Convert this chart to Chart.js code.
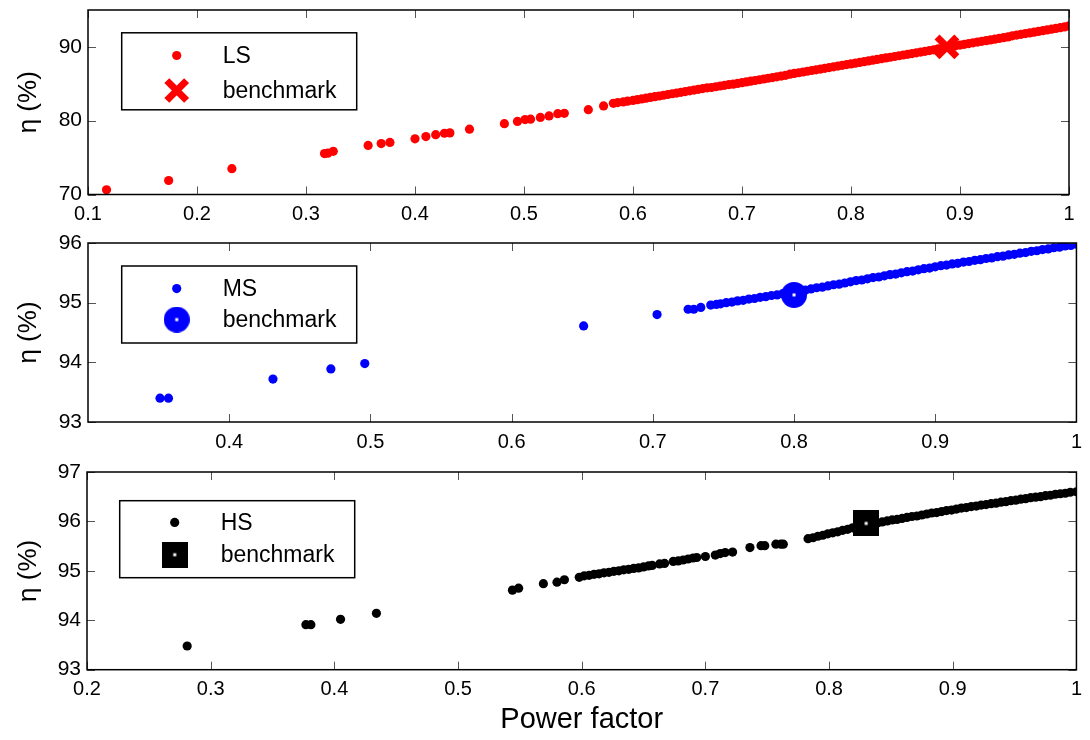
<!DOCTYPE html>
<html>
<head>
<meta charset="utf-8">
<script src="https://cdn.jsdelivr.net/npm/chart.js@4.4.1/dist/chart.umd.min.js"></script>
<style>
  html, body { margin: 0; padding: 0; background: #fff; }
  body { width: 1090px; height: 740px; position: relative; overflow: hidden; }
  .panel { position: absolute; left: 0; width: 1090px; }
</style>
</head>
<body>
<div class="panel"><canvas id="lsChart" width="1090" height="252"></canvas></div>
<div class="panel"><canvas id="msChart" width="1090" height="242"></canvas></div>
<div class="panel"><canvas id="hsChart" width="1090" height="294"></canvas></div>
<script>
// --- LS (top panel) ---
const lsPF = [0.117, 0.174, 0.232, 0.317, 0.320, 0.325, 0.357, 0.369, 0.377, 0.400, 0.410, 0.419, 0.427, 0.432,
  0.450, 0.482, 0.494, 0.501, 0.506, 0.515, 0.523, 0.531, 0.537, 0.559, 0.573, 0.582, 0.586, 0.591, 0.595,
  0.600, 0.604, 0.608, 0.612, 0.616, 0.620, 0.624, 0.628, 0.632, 0.636, 0.640, 0.644, 0.648, 0.652, 0.656, 0.660,
  0.664, 0.668, 0.672, 0.676, 0.680, 0.684, 0.688, 0.692, 0.696, 0.700, 0.704, 0.708, 0.712, 0.716, 0.720, 0.724,
  0.728, 0.732, 0.736, 0.740, 0.744, 0.748, 0.752, 0.756, 0.760, 0.764, 0.768, 0.772, 0.776, 0.780, 0.784, 0.788,
  0.792, 0.796, 0.800, 0.804, 0.808, 0.812, 0.816, 0.820, 0.824, 0.828, 0.832, 0.836, 0.840, 0.844, 0.848, 0.852,
  0.856, 0.860, 0.864, 0.868, 0.872, 0.876, 0.880, 0.884, 0.888, 0.892, 0.896, 0.900, 0.904, 0.908, 0.912, 0.916,
  0.920, 0.924, 0.928, 0.932, 0.936, 0.940, 0.944, 0.948, 0.952, 0.956, 0.960, 0.964, 0.968, 0.972, 0.976, 0.980,
  0.984, 0.988, 0.992, 0.996, 1.000];
const lsEta = [70.64, 71.9, 73.5, 75.55, 75.6, 75.85, 76.65, 76.9, 77.05, 77.55, 77.85, 78.1, 78.3, 78.35,
  78.85, 79.6, 79.9, 80.15, 80.2, 80.45, 80.65, 80.95, 81.0, 81.5, 82.0, 82.35, 82.45, 82.55, 82.65,
  82.75, 82.85, 82.95, 83.05, 83.15, 83.25, 83.35, 83.45, 83.55, 83.65, 83.75, 83.85, 83.95, 84.05, 84.15, 84.25,
  84.35, 84.45, 84.5, 84.6, 84.7, 84.8, 84.9, 84.95, 85.05, 85.15, 85.25, 85.35, 85.45, 85.55, 85.65, 85.75,
  85.85, 85.95, 86.05, 86.15, 86.3, 86.4, 86.5, 86.6, 86.7, 86.8, 86.9, 87.0, 87.1, 87.2, 87.3, 87.4,
  87.5, 87.6, 87.7, 87.8, 87.9, 88.0, 88.1, 88.2, 88.3, 88.4, 88.5, 88.6, 88.7, 88.8, 88.9, 89.0,
  89.1, 89.2, 89.3, 89.4, 89.5, 89.6, 89.75, 89.85, 89.95, 90.05, 90.15, 90.25, 90.35, 90.45, 90.55, 90.65,
  90.75, 90.85, 90.95, 91.05, 91.15, 91.25, 91.35, 91.5, 91.6, 91.7, 91.8, 91.9, 92.0, 92.1, 92.2, 92.3,
  92.4, 92.5, 92.6, 92.7, 92.85];
const lsBenchPF = [0.888];
const lsBenchEta = [90.0];
const lsTicksX = [0.1, 0.2, 0.3, 0.4, 0.5, 0.6, 0.7, 0.8, 0.9, 1];
const lsTicksY = [70, 80, 90];

// --- MS (middle panel) ---
const msPF = [0.351, 0.357, 0.431, 0.472, 0.496, 0.651, 0.703, 0.725, 0.729, 0.734, 0.741, 0.745, 0.748,
  0.752, 0.756, 0.760, 0.764, 0.768, 0.772, 0.776, 0.780, 0.784, 0.788, 0.792, 0.796, 0.800, 0.804, 0.808, 0.812,
  0.816, 0.820, 0.824, 0.828, 0.832, 0.836, 0.840, 0.844, 0.848, 0.852, 0.856, 0.860, 0.864, 0.868, 0.872, 0.876,
  0.880, 0.884, 0.888, 0.892, 0.896, 0.900, 0.904, 0.908, 0.912, 0.916, 0.920, 0.924, 0.928, 0.932, 0.936, 0.940,
  0.944, 0.948, 0.952, 0.956, 0.960, 0.964, 0.968, 0.972, 0.976, 0.980, 0.984, 0.988, 0.992, 0.996, 1.000];
const msEta = [93.40, 93.40, 93.72, 93.89, 93.98, 94.61, 94.80, 94.89, 94.89, 94.92, 94.96, 94.97, 94.98,
  95.00, 95.01, 95.03, 95.04, 95.06, 95.07, 95.09, 95.10, 95.12, 95.13, 95.15, 95.16, 95.18, 95.20, 95.21, 95.23,
  95.25, 95.26, 95.28, 95.30, 95.31, 95.33, 95.35, 95.37, 95.38, 95.40, 95.42, 95.43, 95.45, 95.47, 95.48, 95.50,
  95.52, 95.53, 95.55, 95.57, 95.58, 95.60, 95.62, 95.63, 95.65, 95.66, 95.68, 95.69, 95.71, 95.72, 95.74, 95.75,
  95.77, 95.78, 95.80, 95.81, 95.83, 95.84, 95.86, 95.87, 95.89, 95.90, 95.92, 95.93, 95.95, 95.96, 95.98];
const msBenchPF = [0.800];
const msBenchEta = [95.13];
const msTicksX = [0.4, 0.5, 0.6, 0.7, 0.8, 0.9, 1];
const msTicksY = [93, 94, 95, 96];

// --- HS (bottom panel) ---
const hsPF = [0.281, 0.377, 0.381, 0.405, 0.434, 0.544, 0.549, 0.569, 0.580, 0.586,
  0.598, 0.602, 0.606, 0.610, 0.614, 0.618, 0.622, 0.626, 0.630, 0.634, 0.638, 0.642, 0.646, 0.650, 0.654, 0.657,
  0.663, 0.667, 0.674, 0.678, 0.682, 0.686, 0.690, 0.693, 0.700, 0.708, 0.712, 0.716, 0.722, 0.736, 0.745, 0.748,
  0.757, 0.761, 0.763,
  0.783, 0.787, 0.791, 0.795, 0.799, 0.803, 0.807, 0.811, 0.815, 0.819, 0.823, 0.827, 0.831, 0.835, 0.839, 0.843,
  0.847, 0.851, 0.855, 0.859, 0.863, 0.867, 0.871, 0.875, 0.879, 0.883, 0.887, 0.891, 0.895, 0.899, 0.903, 0.907,
  0.911, 0.915, 0.919, 0.923, 0.927, 0.931, 0.935, 0.939, 0.943, 0.947, 0.951, 0.955, 0.959, 0.963, 0.967, 0.971,
  0.975, 0.979, 0.983, 0.987, 0.991, 0.995, 1.000];
const hsEta = [93.48, 93.91, 93.91, 94.02, 94.14, 94.61, 94.65, 94.74, 94.77, 94.82,
  94.87, 94.90, 94.91, 94.93, 94.94, 94.96, 94.97, 94.99, 95.00, 95.02, 95.03, 95.05, 95.06, 95.08, 95.10, 95.11,
  95.14, 95.15, 95.19, 95.20, 95.22, 95.24, 95.26, 95.27, 95.29, 95.32, 95.35, 95.37, 95.38, 95.47, 95.51, 95.51,
  95.54, 95.54, 95.54,
  95.65, 95.67, 95.70, 95.72, 95.75, 95.77, 95.79, 95.82, 95.84, 95.87, 95.89, 95.91, 95.93, 95.95, 95.97, 95.99,
  96.01, 96.03, 96.04, 96.06, 96.08, 96.10, 96.11, 96.13, 96.15, 96.17, 96.18, 96.20, 96.22, 96.23, 96.25, 96.27,
  96.28, 96.30, 96.31, 96.33, 96.34, 96.36, 96.37, 96.39, 96.40, 96.42, 96.43, 96.45, 96.46, 96.48, 96.49, 96.50,
  96.52, 96.53, 96.55, 96.56, 96.57, 96.59, 96.60];
const hsBenchPF = [0.830];
const hsBenchEta = [95.96];
const hsTicksX = [0.2, 0.3, 0.4, 0.5, 0.6, 0.7, 0.8, 0.9, 1];
const hsTicksY = [93, 94, 95, 96, 97];

const FONT = '"Liberation Sans", Arial, Helvetica, sans-serif';

function pts(xs, ys) {
  return xs.map((x, i) => ({ x: x, y: ys[i] }));
}

// benchmark marker with small white centre, like the matlab one
function benchMarker(shape, size, color) {
  const c = document.createElement('canvas');
  c.width = size; c.height = size;
  const g = c.getContext('2d');
  g.fillStyle = color;
  if (shape === 'circle') {
    g.beginPath();
    g.arc(size / 2, size / 2, size / 2, 0, Math.PI * 2);
    g.fill();
  } else {
    g.fillRect(0, 0, size, size);
  }
  g.fillStyle = '#fff';
  g.fillRect(size / 2 - 1.5, size / 2 - 1.5, 3, 3);
  return c;
}

// box + inward ticks on all four sides
const frameTicks = {
  id: 'frameTicks',
  afterDraw(chart) {
    const { ctx, chartArea: a, scales } = chart;
    const x = scales.x, y = scales.y;
    const len = 8;
    ctx.save();
    ctx.strokeStyle = '#555';
    ctx.lineWidth = 1;
    ctx.beginPath();
    x.ticks.forEach(t => {
      const px = Math.round(x.getPixelForValue(t.value)) + 0.5;
      ctx.moveTo(px, a.bottom); ctx.lineTo(px, a.bottom - len);
      ctx.moveTo(px, a.top); ctx.lineTo(px, a.top + len);
    });
    y.ticks.forEach(t => {
      const py = Math.round(y.getPixelForValue(t.value)) + 0.5;
      ctx.moveTo(a.left, py); ctx.lineTo(a.left + len, py);
      ctx.moveTo(a.right, py); ctx.lineTo(a.right - len, py);
    });
    ctx.stroke();
    ctx.strokeStyle = '#000';
    ctx.lineWidth = 1.5;
    ctx.strokeRect(a.left, a.top, a.right - a.left, a.bottom - a.top);
    ctx.restore();
  }
};

// matlab style legend box in the upper left
const boxLegend = {
  id: 'boxLegend',
  afterDraw(chart, args, o) {
    const { ctx, chartArea } = chart;
    const x0 = chartArea.left + o.dx, y0 = chartArea.top + o.dy;
    ctx.save();
    ctx.fillStyle = '#fff';
    ctx.fillRect(x0, y0, o.w, o.h);
    ctx.strokeStyle = '#000';
    ctx.lineWidth = 1.5;
    ctx.strokeRect(x0, y0, o.w, o.h);
    chart.data.datasets.forEach((ds, i) => {
      const cy = y0 + o.rows[i];
      ctx.fillStyle = ds.backgroundColor;
      ctx.strokeStyle = ds.borderColor;
      ctx.lineWidth = ds.borderWidth;
      Chart.helpers.drawPoint(ctx, {
        pointStyle: ds.pointStyle, radius: ds.pointRadius, borderWidth: ds.borderWidth, rotation: 0
      }, x0 + o.markerX, cy);
      ctx.fillStyle = '#000';
      ctx.font = '23px ' + FONT;
      ctx.textBaseline = 'middle';
      ctx.textAlign = 'left';
      ctx.fillText(ds.label, x0 + o.textX, cy + 1);
    });
    ctx.restore();
  }
};

function fmt(v) {
  return String(Number(Number(v).toFixed(2)));
}

function makePanel(id, cfg) {
  const el = document.getElementById(id);
  el.parentNode.style.top = cfg.top + 'px';
  return new Chart(el, {
    type: 'scatter',
    plugins: [frameTicks, boxLegend],
    data: {
      datasets: [
        {
          label: cfg.name,
          data: pts(cfg.xs, cfg.ys),
          backgroundColor: cfg.color,
          borderColor: cfg.color,
          borderWidth: 0,
          pointStyle: 'circle',
          pointRadius: 4.6,
          order: 1
        },
        {
          label: 'benchmark',
          data: pts(cfg.bx, cfg.by),
          backgroundColor: cfg.color,
          borderColor: cfg.color,
          borderWidth: cfg.benchBorder,
          pointStyle: cfg.benchStyle,
          pointRadius: cfg.benchRadius,
          order: 0
        }
      ]
    },
    options: {
      responsive: false,
      animation: false,
      events: [],
      layout: { padding: { top: cfg.padTop, right: 9, bottom: 0, left: 0 } },
      plugins: {
        legend: { display: false },
        tooltip: { enabled: false },
        boxLegend: cfg.legend
      },
      scales: {
        x: {
          type: 'linear',
          min: cfg.xMin, max: 1,
          afterBuildTicks: s => { s.ticks = cfg.ticksX.map(v => ({ value: v })); },
          afterFit: s => { s.height = cfg.xHeight; },
          grid: { display: false, drawTicks: false },
          border: { display: false },
          ticks: { color: '#000', font: { family: FONT, size: 20 }, padding: 8, maxRotation: 0, autoSkip: false, callback: v => fmt(v) },
          title: cfg.xTitle
            ? { display: true, text: 'Power factor', color: '#000', font: { family: FONT, size: 29 }, padding: { top: 0, bottom: 2.5 } }
            : { display: false }
        },
        y: {
          type: 'linear',
          min: cfg.yMin, max: cfg.yMax,
          afterBuildTicks: s => { s.ticks = cfg.ticksY.map(v => ({ value: v })); },
          afterFit: s => { s.width = cfg.left; },
          grid: { display: false, drawTicks: false },
          border: { display: false },
          ticks: { color: '#000', font: { family: FONT, size: 21, lineHeight: 1 }, padding: 6, autoSkip: false, callback: v => fmt(v) },
          title: { display: true, text: 'η (%)', color: '#000', font: { family: FONT, size: 26 }, padding: { top: 13, bottom: 0 } }
        }
      }
    }
  });
}

makePanel('lsChart', {
  top: -16.5, padTop: 26, xHeight: 41.5, left: 88,
  name: 'LS', xs: lsPF, ys: lsEta, bx: lsBenchPF, by: lsBenchEta,
  color: '#ff0000', benchStyle: 'crossRot', benchRadius: 14, benchBorder: 7,
  xMin: 0.1, yMin: 70, yMax: 95, ticksX: lsTicksX, ticksY: lsTicksY,
  legend: { dx: 33.7, dy: 22.8, w: 235, h: 77, rows: [22.7, 57.7], markerX: 55, textX: 101 }
});

makePanel('msChart', {
  top: 216.7, padTop: 26, xHeight: 37, left: 88,
  name: 'MS', xs: msPF, ys: msEta, bx: msBenchPF, by: msBenchEta,
  color: '#0000ff', benchStyle: benchMarker('circle', 26, '#0000ff'), benchRadius: 13, benchBorder: 0,
  xMin: 0.3, yMin: 93, yMax: 96, ticksX: msTicksX, ticksY: msTicksY,
  legend: { dx: 33.7, dy: 23, w: 235, h: 77, rows: [22.6, 53.6], markerX: 55, textX: 101 }
});

makePanel('hsChart', {
  top: 446.3, padTop: 26, xHeight: 70.3, left: 87, xTitle: true,
  name: 'HS', xs: hsPF, ys: hsEta, bx: hsBenchPF, by: hsBenchEta,
  color: '#000000', benchStyle: benchMarker('square', 26, '#000000'), benchRadius: 13, benchBorder: 0,
  xMin: 0.2, yMin: 93, yMax: 97, ticksX: hsTicksX, ticksY: hsTicksY,
  legend: { dx: 32.7, dy: 28.7, w: 235, h: 77, rows: [21.7, 54], markerX: 55, textX: 101 }
});
</script>
</body>
</html>
